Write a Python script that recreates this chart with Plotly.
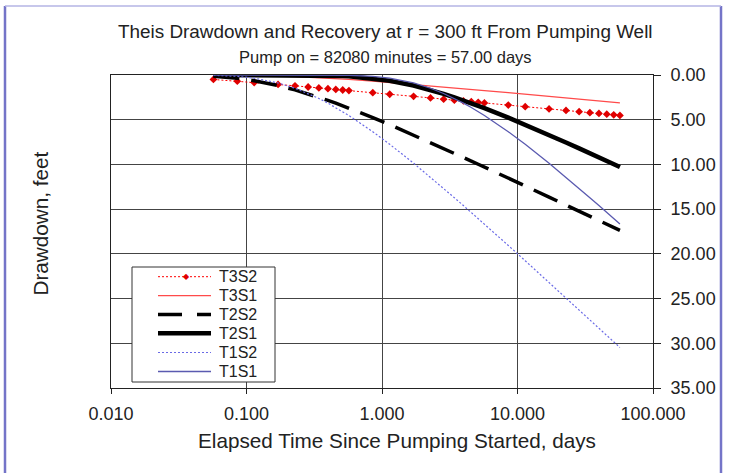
import plotly.graph_objects as go

# Elapsed time, days (pump on = 57.00 days)
time_days = [0.057, 0.0855, 0.114, 0.171, 0.228, 0.285, 0.342, 0.399, 0.456, 0.513,
             0.57, 0.855, 1.14, 1.71, 2.28, 2.85, 3.42, 3.99, 4.56, 5.13,
             5.7, 8.55, 11.4, 17.1, 22.8, 28.5, 34.2, 39.9, 45.6, 51.3, 57.0]

# Drawdown, feet
T3S2 = [0.50, 0.69, 0.84, 1.05, 1.21, 1.34, 1.44, 1.53, 1.61, 1.68, 1.74, 1.98, 2.15, 2.39, 2.56, 2.70,
        2.81, 2.90, 2.98, 3.06, 3.12, 3.36, 3.54, 3.79, 3.96, 4.10, 4.21, 4.30, 4.38, 4.45, 4.52]
T3S1 = [0.01, 0.02, 0.05, 0.11, 0.18, 0.24, 0.30, 0.36, 0.41, 0.46, 0.50, 0.69, 0.84, 1.05, 1.21, 1.34,
        1.44, 1.53, 1.61, 1.68, 1.74, 1.98, 2.15, 2.39, 2.56, 2.70, 2.81, 2.90, 2.98, 3.06, 3.12]
T2S2 = [0.14, 0.37, 0.64, 1.18, 1.67, 2.11, 2.49, 2.84, 3.15, 3.44, 3.70, 4.76, 5.55, 6.71, 7.55, 8.21,
        8.75, 9.22, 9.62, 9.98, 10.29, 11.53, 12.41, 13.66, 14.54, 15.23, 15.80, 16.27, 16.69, 17.05, 17.38]
T2S1 = [0.00, 0.00, 0.00, 0.00, 0.00, 0.01, 0.02, 0.04, 0.07, 0.10, 0.14, 0.37, 0.64, 1.18, 1.67, 2.11,
        2.49, 2.84, 3.15, 3.44, 3.70, 4.76, 5.55, 6.71, 7.55, 8.21, 8.75, 9.22, 9.62, 9.98, 10.29]
T1S2 = [0.03, 0.15, 0.35, 0.89, 1.48, 2.07, 2.62, 3.15, 3.64, 4.10, 4.53, 6.34, 7.75, 9.86, 11.43, 12.68,
        13.72, 14.60, 15.37, 16.06, 16.67, 19.06, 20.77, 23.20, 24.93, 26.28, 27.38, 28.31, 29.12, 29.83, 30.47]
T1S1 = [0.00, 0.00, 0.00, 0.00, 0.00, 0.00, 0.00, 0.00, 0.01, 0.02, 0.03, 0.15, 0.35, 0.89, 1.48, 2.07,
        2.62, 3.15, 3.64, 4.10, 4.53, 6.34, 7.75, 9.86, 11.43, 12.68, 13.72, 14.60, 15.37, 16.06, 16.67]

series_names = ["T3S2", "T3S1", "T2S2", "T2S1", "T1S2", "T1S1"]
series_values = [T3S2, T3S1, T2S2, T2S1, T1S2, T1S1]

x_tickvals = [0.01, 0.1, 1, 10, 100]
x_ticktext = ["0.010", "0.100", "1.000", "10.000", "100.000"]
y_tickvals = [0, 5, 10, 15, 20, 25, 30, 35]
y_ticktext = ["0.00", "5.00", "10.00", "15.00", "20.00", "25.00", "30.00", "35.00"]

FONT = "Liberation Sans, Arial, sans-serif"
TXT = "#222222"

styles = {
    "T3S2": dict(mode="lines+markers", line=dict(color="#ff0000", width=1, dash="2px,2px"),
                 marker=dict(color="#e00000", size=6, symbol="diamond")),
    "T3S1": dict(mode="lines", line=dict(color="#ff4a4a", width=1.3)),
    "T2S2": dict(mode="lines", line=dict(color="#000000", width=3.5, dash="26px,12px")),
    "T2S1": dict(mode="lines", line=dict(color="#000000", width=4.5)),
    "T1S2": dict(mode="lines", line=dict(color="#6a6ae6", width=1.2, dash="2px,2px")),
    "T1S1": dict(mode="lines", line=dict(color="#5a5ab0", width=1.3)),
}

fig = go.Figure()
for name, vals in zip(series_names, series_values):
    fig.add_trace(go.Scatter(x=time_days, y=vals, name=name, showlegend=False, **styles[name]))

fig.update_layout(
    width=731, height=473,
    margin=dict(l=111, r=78, t=75, b=85),
    paper_bgcolor="white", plot_bgcolor="white",
    font=dict(family=FONT, color=TXT, size=16),
    title=dict(text="Theis Drawdown and Recovery at r = 300 ft From Pumping Well",
               x=0.527, xref="container", xanchor="center",
               y=1 - 31 / 473, yref="container", yanchor="middle",
               font=dict(family=FONT, size=18.9, color=TXT)),
    showlegend=False,
    xaxis=dict(type="log", range=[-2, 2], tickvals=x_tickvals, ticktext=x_ticktext,
               showgrid=True, gridcolor="#444444", gridwidth=1,
               showline=True, linecolor="#222222", linewidth=1, mirror=True,
               ticks="outside", ticklen=5, tickcolor="#222222",
               tickfont=dict(family=FONT, size=18, color=TXT),
               ticklabelstandoff=4, zeroline=False),
    yaxis=dict(range=[35, 0], side="right", tickvals=y_tickvals, ticktext=y_ticktext,
               showgrid=True, gridcolor="#444444", gridwidth=1,
               showline=True, linecolor="#222222", linewidth=1, mirror=True,
               ticks="outside", ticklen=7, tickcolor="#222222",
               tickfont=dict(family=FONT, size=18, color=TXT),
               ticklabelstandoff=6, zeroline=False),
)

def px(xp):
    return (xp - 111) / 542

def py(yp):
    return (388 - yp) / 313

fig.add_annotation(text="Pump on = 82080 minutes = 57.00 days", xref="paper", yref="paper",
                   x=px(385), y=py(57), xanchor="center", yanchor="middle",
                   showarrow=False, font=dict(family=FONT, size=16.5, color=TXT))
fig.add_annotation(text="Elapsed Time Since Pumping Started, days", xref="paper", yref="paper",
                   x=px(397), y=py(440), xanchor="center", yanchor="middle",
                   showarrow=False, font=dict(family=FONT, size=20.7, color=TXT))
fig.add_annotation(text="Drawdown, feet", xref="paper", yref="paper", textangle=-90,
                   x=px(40), y=py(223.5), xanchor="center", yanchor="middle",
                   showarrow=False, font=dict(family=FONT, size=20.7, color=TXT))

# legend box (Excel style)
fig.add_shape(type="rect", xref="paper", yref="paper", x0=px(132), x1=px(275), y0=py(382), y1=py(267),
              line=dict(color="#333333", width=1), fillcolor="white", layer="above")
row_y = [276.7, 295.7, 314.5, 333.3, 352.5, 371.5]
for name, ry in zip(series_names, row_y):
    st = styles[name]["line"]
    fig.add_shape(type="line", xref="paper", yref="paper", x0=px(158), x1=px(211), y0=py(ry), y1=py(ry),
                  line=dict(color=st["color"], width=st["width"],
                            dash=("24px,15px" if name == "T2S2" else st.get("dash", "solid"))),
                  layer="above")
    fig.add_annotation(text=name, xref="paper", yref="paper", x=px(217), y=py(ry),
                       xanchor="left", yanchor="middle", showarrow=False,
                       font=dict(family=FONT, size=16, color=TXT))
fig.add_annotation(text="◆", xref="paper", yref="paper", x=px(186), y=py(row_y[0]),
                   xanchor="center", yanchor="middle", showarrow=False,
                   font=dict(family="DejaVu Sans", size=8, color="#e00000"))

# outer chart frame
fx0, fx1 = px(5), px(721)
fy1, fy0 = py(6), py(480)
fig.add_shape(type="line", xref="paper", yref="paper", x0=fx0, x1=fx0, y0=fy0, y1=fy1,
              line=dict(color="#7474c8", width=2.5))
fig.add_shape(type="line", xref="paper", yref="paper", x0=fx1, x1=fx1, y0=fy0, y1=fy1,
              line=dict(color="#7474c8", width=2.5))
fig.add_shape(type="line", xref="paper", yref="paper", x0=fx0, x1=fx1, y0=fy1, y1=fy1,
              line=dict(color="#b4b4e4", width=1.5))

fig.write_html("out.html")
